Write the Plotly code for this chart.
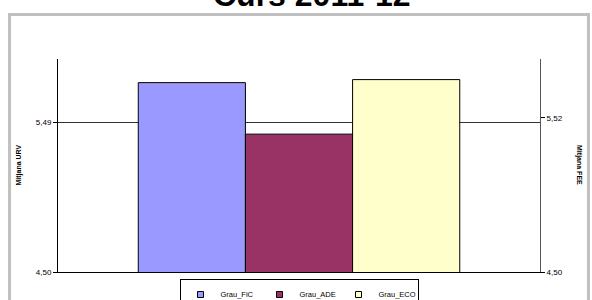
import plotly.graph_objects as go

categories = ["Curs 2011-12"]
series_names = ["Grau_FiC", "Grau_ADE", "Grau_ECO"]
series_values = [5.75, 5.41, 5.77]
series_colors = ["#9999FF", "#993366", "#FFFFCC"]
left_ticks = [4.50, 5.49]
left_ticktext = ["4,50", "5,49"]
right_ticks = [4.50, 5.52]
right_ticktext = ["4,50", "5,52"]

FONT = "Arial, Liberation Sans, sans-serif"
W, H = 592, 300
L, R, T, B = 57.5, 540, 59, 272

fig = go.Figure()
for name, val, col in zip(series_names, series_values, series_colors):
    fig.add_trace(go.Bar(x=categories, y=[val], name=name, marker=dict(color=col, line=dict(color="#000000", width=1)),
                         showlegend=False))
for name, col in zip(series_names, series_colors):
    fig.add_trace(go.Scatter(x=[None], y=[None], mode="markers", name=name,
                             marker=dict(symbol="square", size=6, color=col, line=dict(color="#000000", width=1))))
fig.add_trace(go.Scatter(x=categories, y=[None], yaxis="y2", showlegend=False, hoverinfo="skip"))

def px_x(p):
    return (p - L) / (R - L)

def px_y(p):
    return (B - p) / (B - T)

fig.update_layout(
    width=W, height=H,
    margin=dict(l=L, r=W - R, t=T, b=H - B, pad=0, autoexpand=False),
    paper_bgcolor="white", plot_bgcolor="white",
    font=dict(family=FONT, color="#000000", size=8),
    barmode="group", bargap=0.333, bargroupgap=0,
    showlegend=True,
    legend=dict(orientation="h", x=0.5, xanchor="center", y=px_y(279), yanchor="top",
                bordercolor="#000000", borderwidth=1, font=dict(size=7.5, family=FONT),
                itemwidth=30, entrywidth=34, entrywidthmode="pixels", bgcolor="white"),
    xaxis=dict(showticklabels=False, showline=True, linecolor="#000000", linewidth=1, ticks="",
               showgrid=False, zeroline=False),
    yaxis=dict(range=[4.5, 5.906], tickvals=left_ticks, ticktext=left_ticktext, showline=True,
               linecolor="#000000", linewidth=1, ticks="outside", ticklen=4, tickcolor="#000000",
               showgrid=True, gridcolor="#333333", gridwidth=1, zeroline=False,
               tickfont=dict(size=8, family=FONT)),
    yaxis2=dict(range=[4.5, 5.91], tickvals=right_ticks, ticktext=right_ticktext, overlaying="y",
                side="right", showline=True, linecolor="#555555", linewidth=1, ticks="outside",
                ticklen=4, tickcolor="#000000", showgrid=False, zeroline=False,
                tickfont=dict(size=8, family=FONT)),
    shapes=[dict(type="rect", xref="paper", yref="paper", x0=px_x(9), x1=px_x(588.5),
                 y0=px_y(320), y1=px_y(14.5), line=dict(color="#C0C0C0", width=3), layer="below")],
    annotations=[
        dict(text="<b>Curs 2011-12</b>", xref="paper", yref="paper", x=px_x(311), y=px_y(-5),
             xanchor="center", yanchor="middle", showarrow=False, font=dict(size=32, family=FONT)),
        dict(text="<b>Mitjana URV</b>", xref="paper", yref="paper", x=px_x(17.5), y=0.5, textangle=-90,
             xanchor="center", yanchor="middle", showarrow=False, font=dict(size=7, family=FONT)),
        dict(text="<b>Mitjana FEE</b>", xref="paper", yref="paper", x=px_x(579.5), y=0.5, textangle=90,
             xanchor="center", yanchor="middle", showarrow=False, font=dict(size=7, family=FONT)),
    ],
)

fig.write_html("out.html", config={"displayModeBar": False},
               post_script="document.body.style.margin='0';document.body.style.overflow='hidden';")
